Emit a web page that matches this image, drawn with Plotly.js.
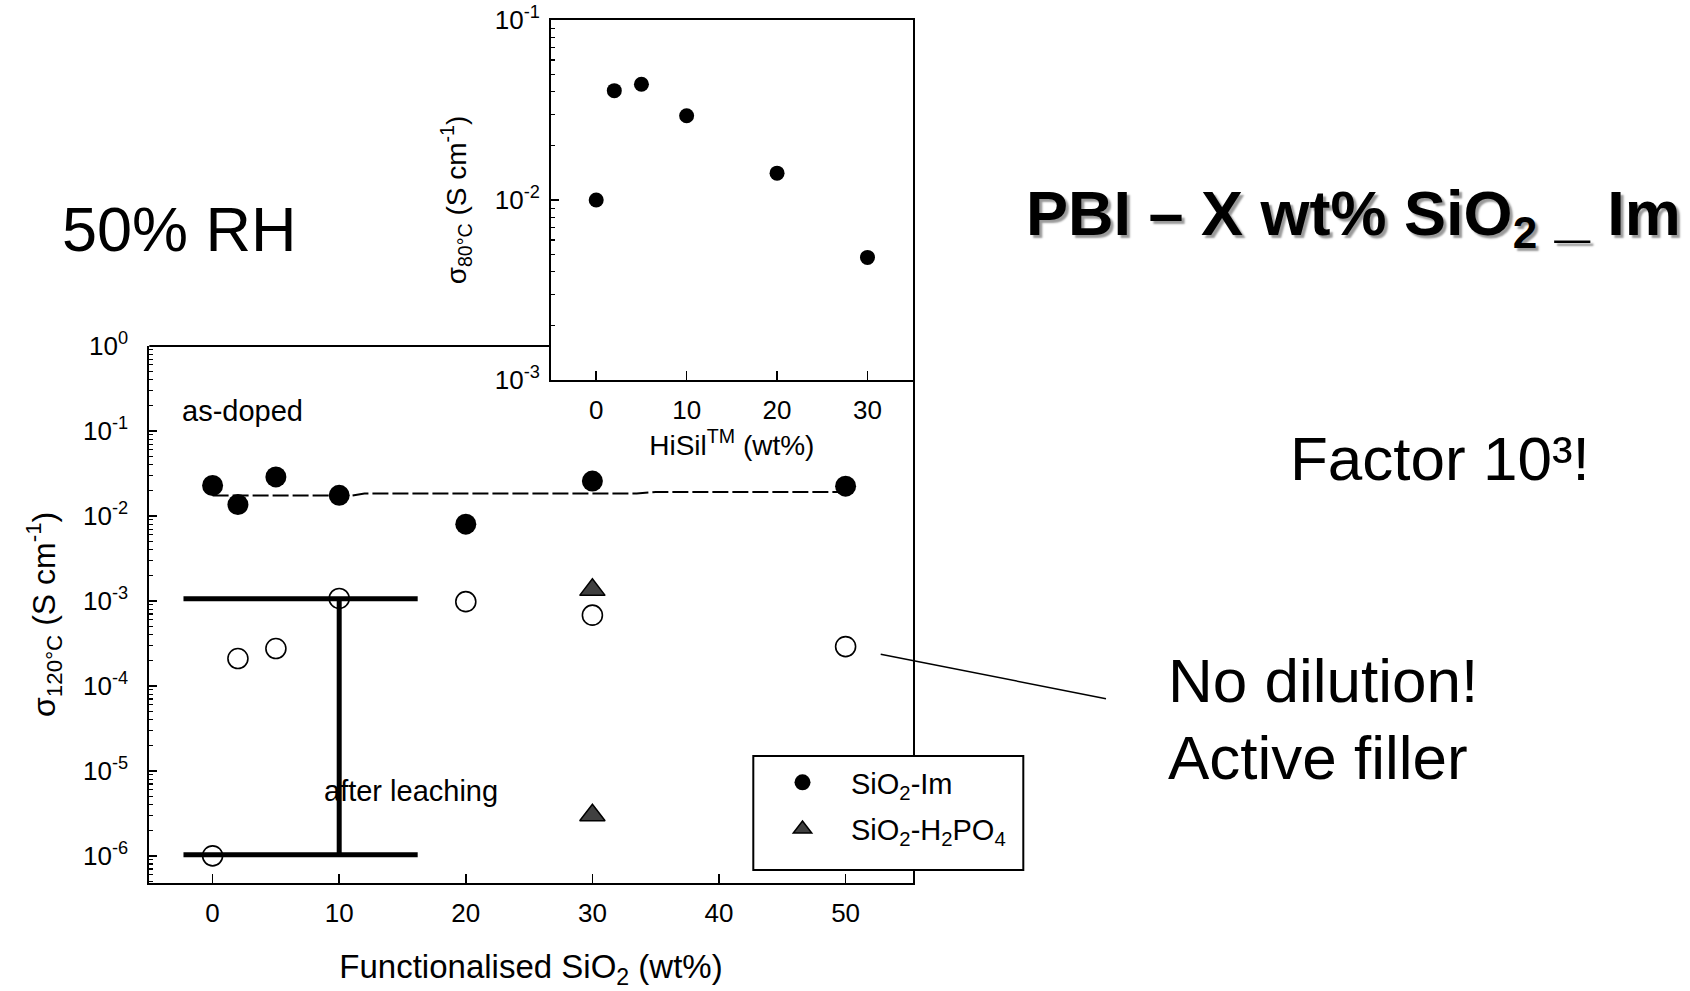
<!DOCTYPE html>
<html>
<head>
<meta charset="utf-8">
<script src="https://cdn.plot.ly/plotly-3.0.1.min.js"></script>
<style>
  html, body { margin: 0; padding: 0; background: #ffffff; }
  #chart { width: 1690px; height: 991px; }
</style>
</head>
<body>
<div id="chart"></div>
<script>
// ---------------- data ----------------
// main panel: functionalised SiO2 content (wt%)
const silicaWt = [0, 2, 5, 10, 20, 30, 50];
// conductivity at 120 °C, as-doped (S/cm)
const sigmaAsDoped = [0.0228, 0.0136, 0.0288, 0.0175, 0.0080, 0.0257, 0.0224];
// conductivity at 120 °C, after leaching (S/cm)
const sigmaLeached = [1.0e-6, 2.1e-4, 2.75e-4, 1.07e-3, 9.8e-4, 6.8e-4, 2.9e-4];
// SiO2-H2PO4 samples
const phosWt = [30, 30];
const sigmaPhos = [1.35e-3, 3.0e-6];
// dashed trend line through the as-doped values
const trendWt = [0, 11, 12, 33.5, 35, 50];
const trendSigma = [0.0174, 0.0174, 0.0184, 0.0184, 0.0192, 0.0192];
// "factor 10^3" bracket
const bracketWt = 10;
const bracketSpan = [-2.3, 16.2];
const bracketHigh = 1.06e-3;
const bracketLow = 1.03e-6;
// inset: HiSil content (wt%) and conductivity at 80 °C (S/cm)
const hisilWt = [0, 2, 5, 10, 20, 30];
const sigma80 = [0.0100, 0.0405, 0.0440, 0.0294, 0.0141, 0.0048];
// tick labels
const mainXTicks = [0, 10, 20, 30, 40, 50];
const mainYTicks = [1, 1e-1, 1e-2, 1e-3, 1e-4, 1e-5, 1e-6];
const mainYText = ['10<sup>0</sup>', '10<sup>-1</sup>', '10<sup>-2</sup>', '10<sup>-3</sup>', '10<sup>-4</sup>', '10<sup>-5</sup>', '10<sup>-6</sup>'];
const insetXTicks = [0, 10, 20, 30];
const insetYTicks = [1e-1, 1e-2, 1e-3];
const insetYText = ['10<sup>-1</sup>', '10<sup>-2</sup>', '10<sup>-3</sup>'];
const minorMantissas = [2, 3, 4, 5, 6, 7, 8, 9];

// ---------------- helpers ----------------
const W = 1690, H = 991;
const px = v => v / W;
const py = v => 1 - v / H;
const FONT = 'Liberation Sans, Arial, Helvetica, sans-serif';
function minorTicks(decades) {
  const out = [];
  decades.forEach(d => minorMantissas.forEach(m => out.push(m * d)));
  return out;
}

const traces = [
  { // bracket
    x: [bracketSpan[0], bracketSpan[1], null, bracketSpan[0], bracketSpan[1], null, bracketWt, bracketWt],
    y: [bracketHigh, bracketHigh, null, bracketLow, bracketLow, null, bracketLow, bracketHigh],
    xaxis: 'x', yaxis: 'y', mode: 'lines', showlegend: false, hoverinfo: 'skip',
    line: { color: '#000', width: 5 }, connectgaps: false
  },
  { // trend line
    x: trendWt, y: trendSigma, xaxis: 'x', yaxis: 'y', mode: 'lines', showlegend: false,
    line: { color: '#000', width: 2, dash: '16px,4px' }
  },
  {
    name: 'SiO<sub>2</sub>-Im', legendgroup: 'im',
    x: silicaWt, y: sigmaAsDoped, xaxis: 'x', yaxis: 'y', mode: 'markers',
    marker: { symbol: 'circle', size: 21, color: '#000' }
  },
  {
    name: 'SiO<sub>2</sub>-Im after leaching', legendgroup: 'im',
    x: silicaWt, y: sigmaLeached, xaxis: 'x', yaxis: 'y', mode: 'markers', showlegend: false,
    marker: { symbol: 'circle-open', size: 20, color: '#000', line: { width: 1.6, color: '#000' } }
  },
  {
    name: 'SiO<sub>2</sub>-H<sub>2</sub>PO<sub>4</sub>', legendgroup: 'phos',
    x: phosWt, y: sigmaPhos, xaxis: 'x', yaxis: 'y', mode: 'markers',
    marker: { symbol: 'triangle-up', size: 22, color: '#404040', line: { width: 1.5, color: '#000' } }
  },
  {
    name: 'HiSil',
    x: hisilWt, y: sigma80, xaxis: 'x2', yaxis: 'y2', mode: 'markers', showlegend: false,
    marker: { symbol: 'circle', size: 15, color: '#000' }
  }
];

const axisCommon = {
  showgrid: false, zeroline: false, showline: true, linecolor: '#000', linewidth: 2,
  ticks: 'inside', tickcolor: '#000', tickwidth: 1.5,
  tickfont: { family: FONT, size: 26, color: '#000' }
};

const layout = {
  width: W, height: H,
  margin: { l: 0, r: 0, t: 0, b: 0 },
  paper_bgcolor: '#ffffff', plot_bgcolor: '#ffffff',
  font: { family: FONT, color: '#000' },
  showlegend: true,
  xaxis: Object.assign({}, axisCommon, {
    domain: [px(149.3), px(912.7)], anchor: 'y',
    range: [-5, 55.3], tickmode: 'array', tickvals: mainXTicks, ticklen: 9,
    ticklabelstandoff: 6,
    title: { text: 'Functionalised SiO<sub>2</sub> (wt%)', font: { family: FONT, size: 33 }, standoff: 28 }
  }),
  yaxis: Object.assign({}, axisCommon, {
    domain: [py(882.7), py(346)], anchor: 'x', type: 'log',
    range: [-6.316, 0], tickmode: 'array', tickvals: mainYTicks, ticktext: mainYText, ticklen: 8,
    mirror: true,
    minor: { tickmode: 'array', tickvals: minorTicks([1e-7, 1e-6, 1e-5, 1e-4, 1e-3, 1e-2, 1e-1]),
             ticks: 'inside', ticklen: 4, tickwidth: 1.2, tickcolor: '#000', showgrid: false },
    ticklabelstandoff: 14,
    title: { text: 'σ<sub>120°C</sub> (S cm<sup>-1</sup>)', font: { family: FONT, size: 32 }, standoff: 18 }
  }),
  xaxis2: Object.assign({}, axisCommon, {
    domain: [px(551), px(912.7)], anchor: 'y2', mirror: true,
    range: [-5, 35], tickmode: 'array', tickvals: insetXTicks, ticklen: 9,
    ticklabelstandoff: 6,
    title: { text: 'HiSil<sup>TM</sup> (wt%)', font: { family: FONT, size: 28 }, standoff: 10 }
  }),
  yaxis2: Object.assign({}, axisCommon, {
    domain: [py(380), py(20)], anchor: 'x2', type: 'log', mirror: true,
    range: [-3, -1], tickmode: 'array', tickvals: insetYTicks, ticktext: insetYText, ticklen: 8,
    minor: { tickmode: 'array', tickvals: minorTicks([1e-3, 1e-2]),
             ticks: 'inside', ticklen: 4, tickwidth: 1.2, tickcolor: '#000', showgrid: false },
    ticklabelstandoff: 4,
    title: { text: 'σ<sub>80°C</sub> (S cm<sup>-1</sup>)', font: { family: FONT, size: 28 }, standoff: 20 }
  }),
  legend: {
    x: px(744), y: py(757), xanchor: 'left', yanchor: 'top',
    bgcolor: 'rgba(0,0,0,0)', borderwidth: 0,
    font: { family: FONT, size: 29, color: '#000' },
    itemwidth: 87, indentation: 10, traceorder: 'grouped', tracegroupgap: 6
  },
  shapes: [
    { type: 'line', xref: 'x domain', yref: 'y domain', x0: 0, x1: (551 - 149.3) / (912.7 - 149.3), y0: 1, y1: 1,
      line: { color: '#000', width: 2 } },
    { type: 'line', xref: 'paper', yref: 'paper', x0: px(880.7), y0: py(654.3), x1: px(1106), y1: py(698.7),
      line: { color: '#000', width: 1.5 } },
    { type: 'rect', xref: 'paper', yref: 'paper', x0: px(753.3), y0: py(756), x1: px(1023.3), y1: py(870),
      fillcolor: '#ffffff', layer: 'above', line: { color: '#000', width: 2 } }
  ],
  annotations: [
    { text: '50% RH', xref: 'paper', yref: 'paper', x: px(60), y: py(229), xanchor: 'left', yanchor: 'middle',
      showarrow: false, font: { family: FONT, size: 63, color: '#000' } },
    { text: 'PBI – X wt% SiO<sub>2</sub> _ Im', xref: 'paper', yref: 'paper', x: px(1024), y: py(218), xanchor: 'left', yanchor: 'middle',
      showarrow: false, font: { family: FONT, size: 63, color: '#000', weight: 'bold', shadow: '3px 3px 2px #9a9a9a' } },
    { text: 'Factor 10³!', xref: 'paper', yref: 'paper', x: px(1288), y: py(458), xanchor: 'left', yanchor: 'middle',
      showarrow: false, font: { family: FONT, size: 62, color: '#000' } },
    { text: 'No dilution!', xref: 'paper', yref: 'paper', x: px(1166), y: py(680), xanchor: 'left', yanchor: 'middle',
      showarrow: false, font: { family: FONT, size: 62, color: '#000' } },
    { text: 'Active filler', xref: 'paper', yref: 'paper', x: px(1166), y: py(757), xanchor: 'left', yanchor: 'middle',
      showarrow: false, font: { family: FONT, size: 62, color: '#000' } },
    { text: 'as-doped', xref: 'paper', yref: 'paper', x: px(180), y: py(411), xanchor: 'left', yanchor: 'middle',
      showarrow: false, font: { family: FONT, size: 29, color: '#000' } },
    { text: 'after leaching', xref: 'paper', yref: 'paper', x: px(322), y: py(791), xanchor: 'left', yanchor: 'middle',
      showarrow: false, font: { family: FONT, size: 29, color: '#000' } }
  ]
};

Plotly.newPlot('chart', traces, layout, { staticPlot: true, displayModeBar: false });
</script>
</body>
</html>
